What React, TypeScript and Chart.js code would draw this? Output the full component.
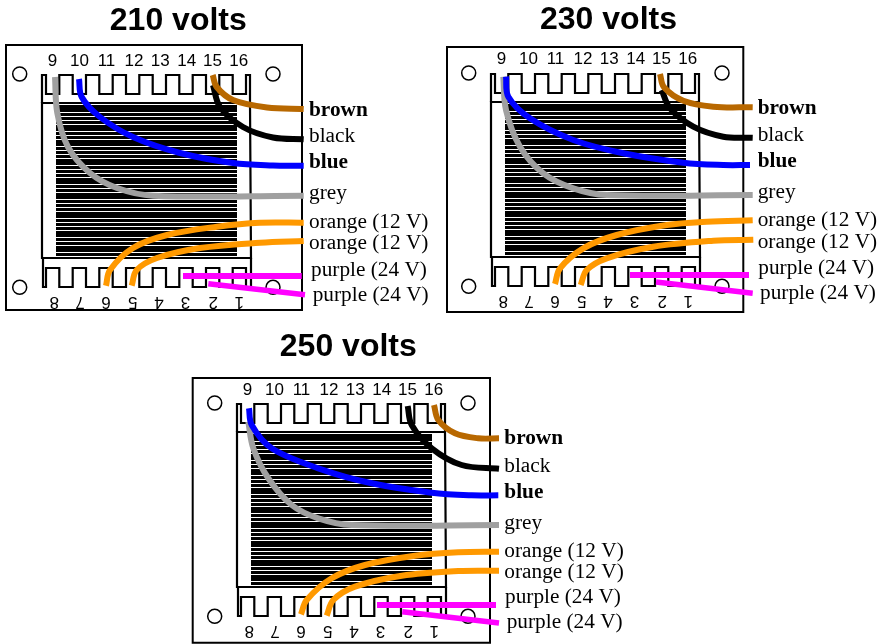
import React, { useEffect, useRef } from "react";
import { Chart, registerables } from "chart.js";

Chart.register(...registerables);

type P = [number, number];

const titles = ["210 volts", "230 volts", "250 volts"];
const titleAnchors: P[] = [[178.3, 29.5], [608.5, 29], [348.3, 356]];

const boards = [
  [6, 45, 302, 310],
  [447, 47, 743.3, 312],
  [192.7, 378, 490, 642.7],
];
const innerOffsets: P[] = [[0, 0], [449, -1], [195, 329]];

const topPins = ["9", "10", "11", "12", "13", "14", "15", "16"];
const topPinX = [52.5, 79.5, 106.5, 134, 160.3, 186.7, 212.5, 238.7];
const topPinY = [66, 65, 66];
const bottomPins = ["8", "7", "6", "5", "4", "3", "2", "1"];
const bottomPinX = [54.2, 80, 106, 132.7, 159, 185.5, 213.2, 239.3];
const bottomPinY = 296.5;

const holes: P[] = [[19.7, 74], [273, 74], [19.7, 287.3], [273, 287.3]];

const upperComb: P[] = [
  [42, 103], [42, 75], [46, 75], [46, 94], [59.3, 94], [59.3, 75], [72.7, 75], [72.7, 94],
  [86, 94], [86, 75], [99.3, 75], [99.3, 94], [112.7, 94], [112.7, 75], [126, 75], [126, 94],
  [139.3, 94], [139.3, 75], [152.7, 75], [152.7, 94], [166, 94], [166, 75], [179.3, 75], [179.3, 94],
  [192.7, 94], [192.7, 75], [206, 75], [206, 94], [219.3, 94], [219.3, 75], [232.7, 75], [232.7, 94],
  [246, 94], [246, 75], [250, 75], [250, 103],
];
const lowerComb: P[] = [
  [43, 258], [43, 287], [46, 287], [46, 268], [59.3, 268], [59.3, 287], [72.7, 287], [72.7, 268],
  [86, 268], [86, 287], [99.3, 287], [99.3, 268], [112.7, 268], [112.7, 287], [126, 287], [126, 268],
  [139.3, 268], [139.3, 287], [152.7, 287], [152.7, 268], [166, 268], [166, 287], [179.3, 287], [179.3, 268],
  [192.7, 268], [192.7, 287], [206, 287], [206, 268], [219.3, 268], [219.3, 287], [232.7, 287], [232.7, 268],
  [246, 268], [246, 287], [251, 287], [251, 258],
];
const frame: P[] = [[250, 103], [42, 103], [42, 258], [251, 258], [250, 103]];

const coreLeft = 56;
const coreRight = 237;
const coreTop = 105;
const coreBottom = 256;
const coreStripes = [
  112.5, 116.5, 120.5, 124.5, 131.5, 135.5, 139.5, 146.5, 150.5, 154.5, 158.5, 165.5, 169.5, 173.5, 177.5,
  184.5, 188.5, 192.5, 199.5, 203.5, 207.5, 211.5, 218.5, 222.5, 226.5, 230.5, 237.5, 241.5, 245.5, 252.5,
];

const greyWire: P[][] = [
  [[55, 77], [57.3, 113], [68, 147], [90, 173], [117, 188], [153, 195.7], [303.7, 195.7]],
  [[503.3, 76.7], [506, 110], [520, 146.7], [543.3, 173.3], [573.3, 188.3], [606.7, 195], [752.7, 195]],
  [[248.3, 421.7], [253.3, 448.3], [268.3, 478.3], [291.7, 505], [318.3, 518.3], [351.7, 525], [499, 525]],
];
const blueWire: P[][] = [
  [[79, 79], [81.7, 97], [100, 117], [133, 137], [180, 153], [233, 163], [273, 165.5], [303.7, 165.7]],
  [[506, 76.7], [508.3, 96.7], [530, 118.3], [573.3, 140], [623.3, 153.3], [683.3, 162.7], [723.3, 165], [750, 165]],
  [[249, 408.3], [251.7, 425], [271.7, 448.3], [318.3, 468.3], [371.7, 483.3], [431.7, 492.7], [471.7, 495.3], [498.3, 495.3]],
];
const brownWire: P[][] = [
  [[212.7, 75], [216.7, 87], [233, 100], [267, 107.5], [303.7, 109]],
  [[660, 74], [664, 87.3], [683.3, 100.7], [713.3, 106.7], [752.7, 107.3]],
  [[434, 405], [438.3, 420], [455, 433.3], [478.3, 438.3], [499, 438.3]],
];
const blackWire: P[][] = [
  [[213, 85], [220, 107], [243, 127], [273, 137.5], [303.7, 139.3]],
  [[661.7, 90], [670, 108.3], [693.3, 126.7], [723.3, 136.7], [752.7, 137.7]],
  [[407.7, 406], [411.7, 425], [431.7, 448.3], [461.7, 465], [499, 468.7]],
];
const orangeWireA: P[][] = [
  [[106, 285.7], [110, 270], [133, 248], [167, 235], [217, 226.7], [260, 222.7], [303.7, 222.7]],
  [[555, 284], [560, 268.3], [583.3, 248.3], [616.7, 235], [666.7, 225], [706.7, 221.7], [752.7, 220.3]],
  [[301, 614.3], [306.7, 600], [331.7, 578.3], [365, 565], [415, 555.7], [458.3, 552.3], [499, 551.7]],
];
const orangeWireB: P[][] = [
  [[131.7, 285.7], [136.7, 270], [157, 258], [200, 248], [260, 242.7], [303.7, 241]],
  [[580.7, 285], [586.7, 270], [606.7, 258.3], [653.3, 246.7], [713.3, 240.7], [753.3, 239.7]],
  [[326.7, 615.7], [333.3, 600], [355, 586.7], [401.7, 575.7], [458.3, 571], [499, 570.7]],
];
const purpleWireA: P[][] = [
  [[183, 276], [301.7, 276]],
  [[630, 275], [749, 275]],
  [[377, 605], [496, 605]],
];
const purpleWireB: P[][] = [
  [[208.3, 283.7], [305, 294.7]],
  [[656, 282], [752.7, 293.3]],
  [[402.3, 611.7], [499, 623]],
];

const wireLabels = ["brown", "black", "blue", "grey", "orange (12 V)", "orange (12 V)", "purple (24 V)", "purple (24 V)"];
const boldLabels = ["brown", "blue"];
const labelAnchors: P[][] = [
  [[309, 115.5], [309, 141.7], [309, 168.3], [309, 199.3], [309, 227.7], [309, 249], [311, 275.7], [312.7, 301]],
  [[757.7, 113.5], [757.7, 140.7], [757.7, 166.7], [757.7, 198.3], [757.7, 225.7], [757.7, 247.7], [758.3, 274], [760, 299]],
  [[504.3, 444.3], [504.3, 471.7], [504.3, 497.7], [504.3, 529], [504.3, 556.7], [504.3, 577.7], [505, 603.3], [506.7, 628.3]],
];

const pts = (list: P[], dx = 0, dy = 0) => list.map(([x, y]) => ({ x: x + dx, y: y + dy }));

function buildDatasets() {
  const out: any[] = [];
  const line = (data: P[], color: string, width: number, tension = 0, dx = 0, dy = 0) =>
    out.push({
      type: "scatter",
      data: pts(data, dx, dy),
      showLine: true,
      borderColor: color,
      backgroundColor: color,
      borderWidth: width,
      borderCapStyle: "butt",
      borderJoinStyle: "miter",
      pointRadius: 0,
      tension,
      clip: false,
    });

  boards.forEach(([l, t, r, b], i) => {
    const [dx, dy] = innerOffsets[i];
    line([[l, t], [r, t], [r, b], [l, b], [l, t - 1]], "#000000", 2);
    const coreMid = (coreTop + coreBottom) / 2;
    line([[coreLeft, coreMid], [coreRight, coreMid]], "#000000", coreBottom - coreTop, 0, dx, dy);
    coreStripes.forEach((y) => line([[coreLeft, y], [coreRight, y]], "#ffffff", 1.2, 0, dx, dy));
    line(upperComb, "#000000", 2.2, 0, dx, dy);
    line(lowerComb, "#000000", 2.2, 0, dx, dy);
    line(frame, "#000000", 2.2, 0, dx, dy);
    out.push({
      type: "scatter",
      data: pts(holes, dx, dy),
      pointRadius: 7,
      pointBorderWidth: 1.5,
      pointBorderColor: "#000000",
      pointBackgroundColor: "#ffffff",
      clip: false,
    });
    line(blackWire[i], "#000000", 6, 0.35);
    line(brownWire[i], "#b86800", 6, 0.35);
    line(greyWire[i], "#a0a0a0", 6, 0.35);
    line(blueWire[i], "#0000ff", 6, 0.35);
    line(orangeWireA[i], "#ff9900", 6, 0.35);
    line(orangeWireB[i], "#ff9900", 6, 0.35);
    line(purpleWireA[i], "#ff00ff", 6);
    line(purpleWireB[i], "#ff00ff", 5.5);
  });
  return out.reverse();
}

const textPlugin = {
  id: "diagramText",
  afterDatasetsDraw(chart: any) {
    const { ctx, scales } = chart;
    const X = (v: number) => scales.x.getPixelForValue(v);
    const Y = (v: number) => scales.y.getPixelForValue(v);
    ctx.save();
    ctx.fillStyle = "#000000";
    ctx.textBaseline = "alphabetic";
    titles.forEach((t, i) => {
      ctx.font = 'bold 32px "Liberation Sans"';
      ctx.textAlign = "center";
      ctx.fillText(t, X(titleAnchors[i][0]), Y(titleAnchors[i][1]));
    });
    innerOffsets.forEach(([dx, dy], i) => {
      ctx.font = '17px "Liberation Sans"';
      ctx.textAlign = "center";
      topPins.forEach((t, k) => ctx.fillText(t, X(topPinX[k] + dx), Y(topPinY[i] + dy)));
      bottomPins.forEach((t, k) => {
        ctx.save();
        ctx.translate(X(bottomPinX[k] + dx), Y(bottomPinY + dy));
        ctx.rotate(Math.PI);
        ctx.fillText(t, 0, 0);
        ctx.restore();
      });
      ctx.textAlign = "left";
      wireLabels.forEach((t, k) => {
        ctx.font = (boldLabels.includes(t) ? "bold " : "") + '21.3px "Liberation Serif"';
        ctx.fillText(t, X(labelAnchors[i][k][0]), Y(labelAnchors[i][k][1]));
      });
    });
    ctx.restore();
  },
};

export default function App() {
  const ref = useRef<HTMLCanvasElement>(null);
  useEffect(() => {
    const chart = new Chart(ref.current!, {
      type: "scatter",
      data: { datasets: buildDatasets() },
      options: {
        animation: false,
        responsive: false,
        devicePixelRatio: 1,
        layout: { padding: 0, autoPadding: false },
        plugins: { legend: { display: false }, tooltip: { enabled: false }, title: { display: false } },
        scales: {
          x: { type: "linear", min: 0, max: 885, display: false },
          y: { type: "linear", min: 0, max: 644, reverse: true, display: false },
        },
      },
      plugins: [textPlugin],
    } as any);
    return () => chart.destroy();
  }, []);
  return (
    <div style={{ position: "fixed", left: 0, top: 0, width: 885, height: 644, background: "#ffffff" }}>
      <canvas ref={ref} width={885} height={644} style={{ display: "block" }} />
    </div>
  );
}
